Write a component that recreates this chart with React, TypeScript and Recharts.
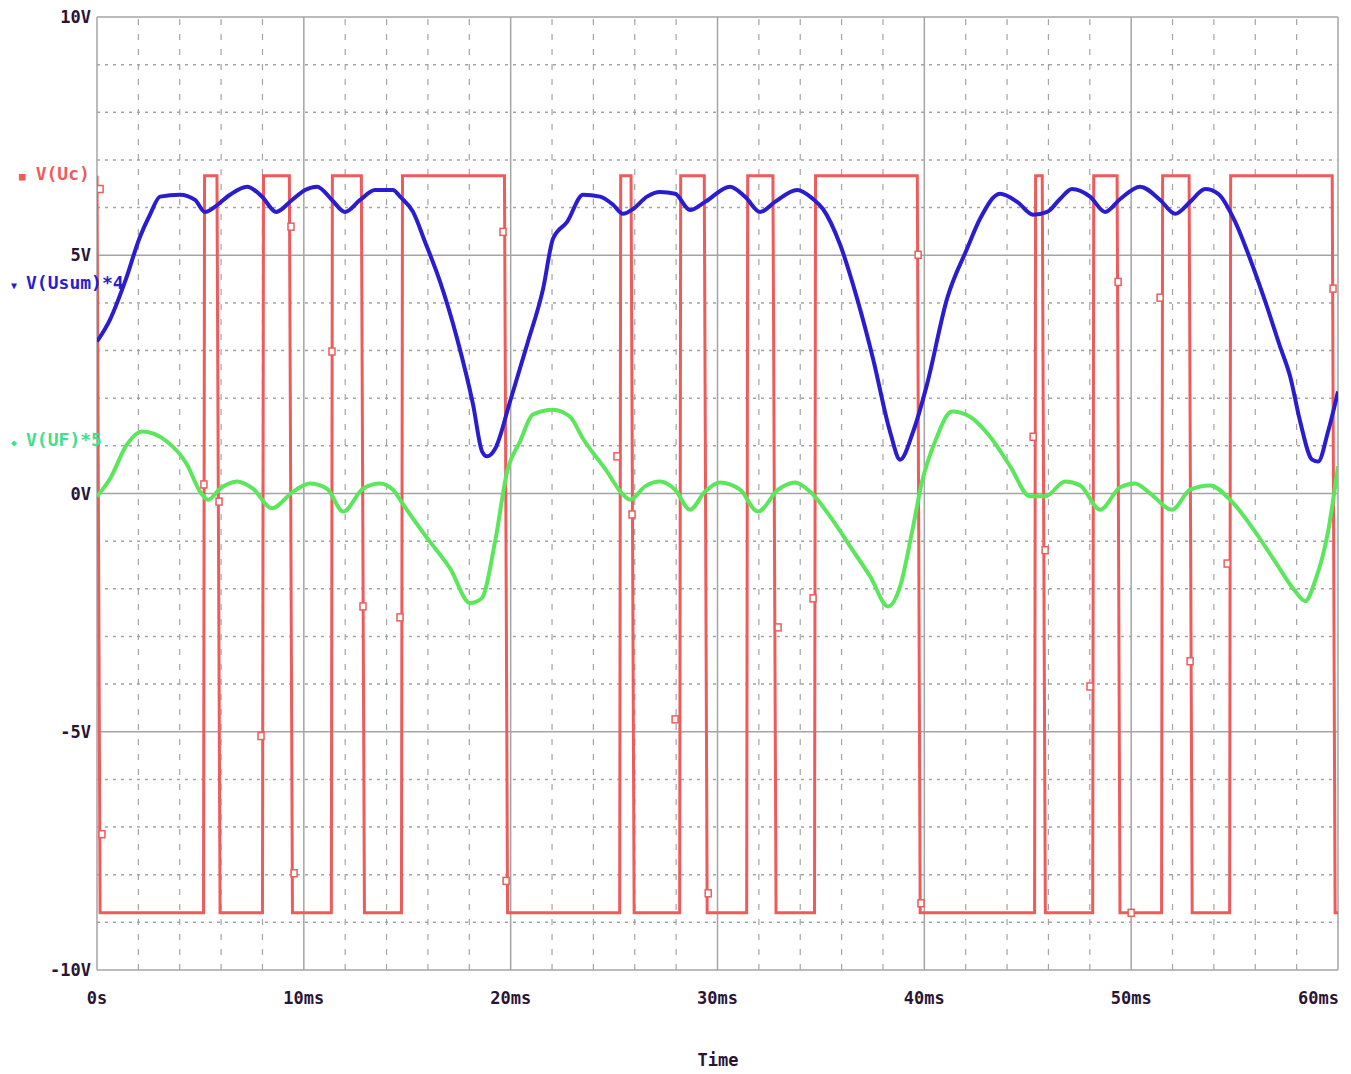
import React from 'react';
import {
  LineChart,
  Line,
  Scatter,
  XAxis,
  YAxis,
  ReferenceLine,
} from 'recharts';

// V(Uc) square wave: time (ms) and level (V)
const ucTime = [
  0, 0.15, 5.15, 5.2, 5.8, 5.95, 8.0, 8.05, 9.3, 9.45, 11.33, 11.38, 12.78, 12.93,
  14.72, 14.77, 19.7, 19.85, 25.27, 25.32, 25.82, 25.97, 28.17, 28.22, 29.36, 29.5,
  31.41, 31.46, 32.68, 32.83, 34.69, 34.74, 39.66, 39.8, 45.33, 45.38, 45.7, 45.85,
  48.14, 48.19, 49.32, 49.46, 51.47, 51.52, 52.8, 52.95, 54.76, 54.81, 59.72, 59.86, 60,
];
const ucVolt = [
  6.67, -8.8, -8.8, 6.67, 6.67, -8.8, -8.8, 6.67, 6.67, -8.8, -8.8, 6.67, 6.67, -8.8,
  -8.8, 6.67, 6.67, -8.8, -8.8, 6.67, 6.67, -8.8, -8.8, 6.67, 6.67, -8.8,
  -8.8, 6.67, 6.67, -8.8, -8.8, 6.67, 6.67, -8.8, -8.8, 6.67, 6.67, -8.8,
  -8.8, 6.67, 6.67, -8.8, -8.8, 6.67, 6.67, -8.8, -8.8, 6.67, 6.67, -8.8, -8.8,
];

// marker squares on V(Uc)
const ucMarkTime = [
  0.15, 0.24, 5.17, 5.9, 7.93, 9.38, 9.53, 11.36, 12.86, 14.65, 19.63, 19.78, 25.14,
  25.87, 27.95, 29.55, 32.93, 34.62, 39.7, 39.84, 45.26, 45.84, 48.01, 49.37, 50.0,
  51.4, 52.85, 54.64, 59.76,
];
const ucMarkVolt = [
  6.39, -7.15, 0.19, -0.17, -5.09, 5.6, -7.97, 2.98, -2.37, -2.6, 5.49, -8.13, 0.78,
  -0.44, -4.74, -8.39, -2.81, -2.2, 5.01, -8.6, 1.19, -1.19, -4.05, 4.44, -8.8,
  4.11, -3.52, -1.47, 4.3,
];

// V(Usum)*4
const usumTime = [
  0, 0.63, 1.35, 2.08, 2.56, 3.05, 4.01, 4.74, 5.22, 5.71, 6.43, 7.25, 7.98, 8.66,
  9.43, 10.06, 10.64, 11.36, 11.99, 12.72, 13.44, 14.31, 14.65, 15.28, 15.86, 16.59,
  17.41, 18.18, 18.62, 18.86, 19.25, 19.97, 20.79, 21.57, 22.05, 22.73, 23.5, 24.32,
  24.95, 25.43, 25.92, 26.59, 27.22, 27.95, 28.67, 29.4, 30.61, 31.33, 32.06, 32.78,
  33.85, 34.62, 35.1, 35.93, 36.75, 37.52, 38.34, 38.83, 39.46, 40.13, 41.1, 42.07,
  42.7, 43.66, 44.49, 45.26, 45.94, 46.56, 47.14, 48.01, 48.74, 49.47, 50.43, 51.4,
  52.13, 52.85, 53.58, 54.21, 55.03, 55.76, 56.48, 57.2, 57.69, 58.17, 58.75, 59.04,
  59.52, 60,
];
const usumVolt = [
  3.19, 3.65, 4.44, 5.39, 5.85, 6.23, 6.27, 6.16, 5.91, 6.02, 6.27, 6.44, 6.23, 5.91,
  6.16, 6.37, 6.44, 6.16, 5.91, 6.16, 6.37, 6.37, 6.23, 5.91, 5.28, 4.44,
  3.25, 1.87, 0.88, 0.78, 0.94, 1.93, 3.12, 4.3, 5.35, 5.7, 6.27, 6.23,
  6.06, 5.87, 5.97, 6.23, 6.33, 6.29, 5.95, 6.12, 6.44, 6.23, 5.91, 6.12,
  6.37, 6.18, 5.97, 5.22, 4.09, 2.83, 1.3, 0.71, 1.3, 2.29, 4.09, 5.14,
  5.77, 6.29, 6.12, 5.85, 5.91, 6.18, 6.39, 6.23, 5.91, 6.18, 6.44, 6.16,
  5.87, 6.12, 6.39, 6.29, 5.7, 4.91, 4.03, 3.08, 2.45, 1.51, 0.71, 0.67,
  1.3, 2.14,
];

// V(UF)*5
const ufTime = [
  0, 0.63, 1.45, 2.18, 3.38, 4.35, 4.98, 5.37, 5.95, 6.77, 7.54, 8.46, 9.48, 10.3,
  11.12, 11.9, 12.86, 13.68, 14.31, 14.8, 15.9, 17.07, 18.04, 18.6, 19.25, 19.83,
  20.45, 21.08, 22.05, 22.87, 23.5, 24.66, 25.38, 25.77, 26.5, 27.22, 27.95, 28.67,
  29.4, 30.12, 31.09, 31.96, 32.93, 33.75, 34.47, 35.44, 36.41, 37.38, 38.25, 38.83,
  39.41, 39.89, 40.52, 41.34, 42.21, 43.18, 44.15, 45.11, 45.84, 46.81, 47.53, 48.5,
  49.47, 50.19, 50.92, 51.98, 52.85, 53.82, 54.78, 55.99, 56.96, 57.93, 58.41, 58.89,
  59.52, 60,
];
const ufVolt = [
  -0.06, 0.31, 1.03, 1.3, 1.09, 0.61, 0.04, -0.13, 0.1, 0.25, 0.1, -0.31, 0.04, 0.21,
  0.1, -0.38, 0.1, 0.21, 0.08, -0.23, -0.9, -1.57, -2.3, -2.2, -1.0, 0.46,
  1.09, 1.66, 1.76, 1.61, 1.15, 0.46, 0.0, -0.13, 0.15, 0.25, 0.08, -0.34,
  0.04, 0.23, 0.08, -0.38, 0.08, 0.23, 0.04, -0.48, -1.11, -1.74, -2.37, -1.95,
  -0.8, 0.25, 1.09, 1.72, 1.61, 1.19, 0.57, -0.06, -0.06, 0.25, 0.17, -0.34,
  0.13, 0.21, 0.0, -0.34, 0.08, 0.17, -0.13, -0.8, -1.43, -2.05, -2.26, -1.84,
  -0.8, 0.57,
];

const xTicks = [0, 10, 20, 30, 40, 50, 60];
const xTickLabels = ['0s', '10ms', '20ms', '30ms', '40ms', '50ms', '60ms'];
const xMinor = [2, 4, 6, 8, 12, 14, 16, 18, 22, 24, 26, 28, 32, 34, 36, 38, 42, 44, 46, 48, 52, 54, 56, 58];
const yTicks = [-10, -5, 0, 5, 10];
const yTickLabels = ['-10V', '-5V', '0V', '5V', '10V'];
const yMinor = [-9, -8, -7, -6, -4, -3, -2, -1, 1, 2, 3, 4, 6, 7, 8, 9];

const ucData = ucTime.map((t, i) => ({ t, v: ucVolt[i] }));
const ucMarks = ucMarkTime.map((t, i) => ({ t, v: ucMarkVolt[i] }));
const usumData = usumTime.map((t, i) => ({ t, v: usumVolt[i] }));
const ufData = ufTime.map((t, i) => ({ t, v: ufVolt[i] }));

const FONT = '"DejaVu Sans Mono", monospace';
const INK = '#2a1436';
const GRID = '#a4a4a4';
const RED = '#ef5b5b';
const BLUE = '#2a1ccf';
const GREEN = '#5ce65c';

const XTick = (props: any) => {
  const { x, y, payload } = props;
  const i = xTicks.indexOf(payload.value);
  const last = i === xTicks.length - 1;
  return (
    <text
      x={last ? x + 1 : x}
      y={y + 26}
      textAnchor={last ? 'end' : 'middle'}
      fontFamily={FONT}
      fontWeight="bold"
      fontSize={17}
      fill={INK}
    >
      {xTickLabels[i]}
    </text>
  );
};

const YTick = (props: any) => {
  const { y, payload } = props;
  const i = yTicks.indexOf(payload.value);
  return (
    <text
      x={91}
      y={y + 1}
      dominantBaseline="middle"
      textAnchor="end"
      fontFamily={FONT}
      fontWeight="bold"
      fontSize={17}
      fill={INK}
    >
      {yTickLabels[i]}
    </text>
  );
};

const SquareMark = (props: any) => {
  const { cx, cy } = props;
  return <rect x={cx - 3} y={cy - 3.5} width={6} height={7} fill="#fff" stroke={RED} strokeWidth={1.5} />;
};

const legendStyle: React.CSSProperties = {
  position: 'absolute',
  fontFamily: FONT,
  fontWeight: 'bold',
  fontSize: 18,
  whiteSpace: 'nowrap',
  lineHeight: '20px',
};

export default function App() {
  return (
    <div style={{ position: 'absolute', left: 0, top: 0, width: 1351, height: 1074, background: '#fff' }}>
      <LineChart
        width={1351}
        height={1074}
        margin={{ top: 17, right: 13, bottom: 64, left: 0 }}
      >
        <XAxis
          type="number"
          dataKey="t"
          domain={[0, 60]}
          ticks={xTicks}
          height={40}
          axisLine={false}
          tickLine={false}
          tick={<XTick />}
          interval={0}
          allowDataOverflow
        />
        <YAxis
          type="number"
          dataKey="v"
          domain={[-10, 10]}
          ticks={yTicks}
          width={97}
          axisLine={false}
          tickLine={false}
          tick={<YTick />}
          interval={0}
          allowDataOverflow
        />
        {yMinor.map((v) => (
          <ReferenceLine key={'ym' + v} y={v} stroke={GRID} strokeWidth={1.5} strokeDasharray="3 5" />
        ))}
        {xMinor.map((t) => (
          <ReferenceLine key={'xm' + t} x={t} stroke={GRID} strokeWidth={1.2} strokeDasharray="6 9" />
        ))}
        {yTicks.map((v) => (
          <ReferenceLine key={'y' + v} y={v} stroke={GRID} strokeWidth={1.5} />
        ))}
        {xTicks.map((t) => (
          <ReferenceLine key={'x' + t} x={t} stroke={GRID} strokeWidth={1.5} />
        ))}
        <Line
          data={ucData}
          dataKey="v"
          type="linear"
          stroke={RED}
          strokeWidth={3}
          dot={false}
          isAnimationActive={false}
        />
        <Scatter data={ucMarks} dataKey="v" shape={<SquareMark />} isAnimationActive={false} />
        <Line
          data={usumData}
          dataKey="v"
          type="monotone"
          stroke={BLUE}
          strokeWidth={4}
          dot={false}
          isAnimationActive={false}
        />
        <Line
          data={ufData}
          dataKey="v"
          type="monotone"
          stroke={GREEN}
          strokeWidth={4}
          dot={false}
          isAnimationActive={false}
        />
      </LineChart>
      <div style={{ ...legendStyle, left: 19, top: 164, color: RED }}>
        <span style={{ fontSize: 11, marginRight: 10 }}>■</span>V(Uc)
      </div>
      <div style={{ ...legendStyle, left: 11, top: 273, color: BLUE }}>
        <span style={{ fontSize: 10, marginRight: 9 }}>▼</span>V(Usum)*4
      </div>
      <div style={{ ...legendStyle, left: 11, top: 430, color: '#3ee08a' }}>
        <span style={{ fontSize: 10, marginRight: 9 }}>◆</span>V(UF)*5
      </div>
      <div
        style={{
          position: 'absolute',
          left: 0,
          width: 1436,
          top: 1050,
          textAlign: 'center',
          fontFamily: FONT,
          fontWeight: 'bold',
          fontSize: 17,
          color: INK,
        }}
      >
        Time
      </div>
    </div>
  );
}
